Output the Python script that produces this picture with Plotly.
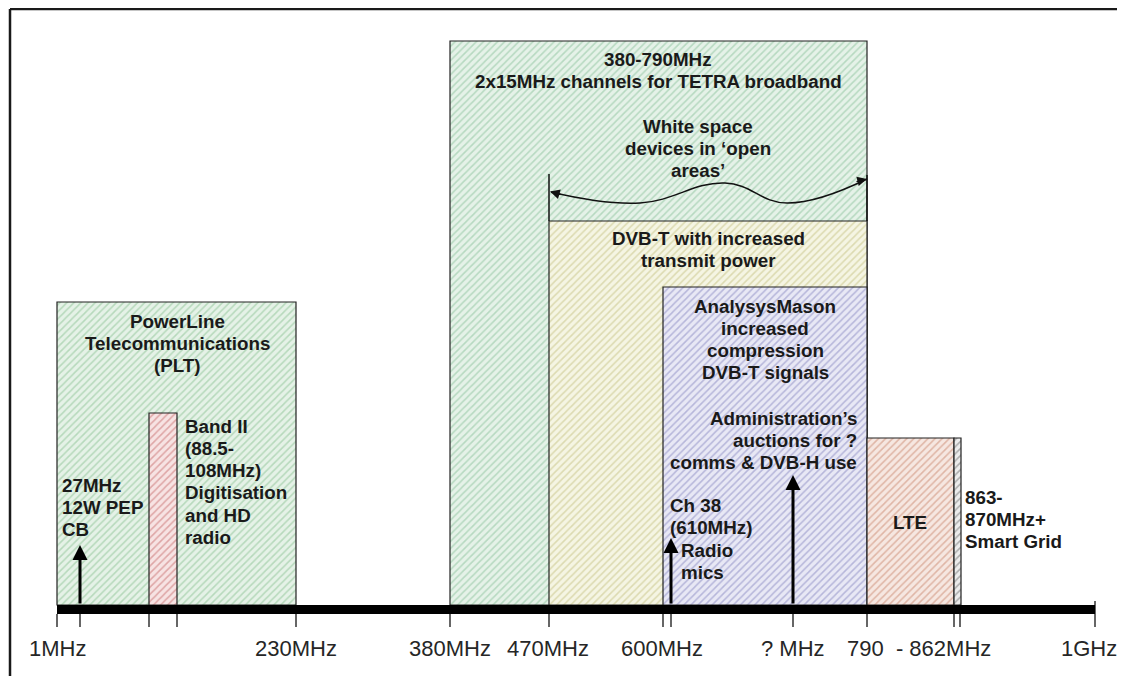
import plotly.graph_objects as go

# ---- Data (schematic spectrum positions; horizontal unit = schematic position, vertical = level above axis) ----
band_names = ["TETRA", "DVB-T", "AnalysysMason", "LTE", "Smart Grid", "PLT", "Band II"]
band_start = [450, 549, 663, 867, 954, 57, 149]
band_end = [867, 867, 867, 954, 961, 296, 177]
band_top = [564, 384, 318, 167, 167, 303, 192]
band_fg = ["#b6d9c0", "#dcdab0", "#b6b6da", "#dfb5a5", "#ababab", "#b6d9bb", "#dea5a5"]
band_bg = ["#e5f2e8", "#f5f5e3", "#e8e8f5", "#f6e7e1", "#ececec", "#e5f2e7", "#f7e3e3"]

tick_pos = [57, 80, 149, 177, 296, 450, 549, 663, 671, 793, 867, 954, 960, 1095]
tick_label_pos = [57, 296, 450, 548, 662, 793, 919, 1089]
tick_labels = ["1MHz", "230MHz", "380MHz", "470MHz", "600MHz", "? MHz", "790  - 862MHz", "1GHz"]

arrow_pos = [80, 671, 793]
arrow_top = [60, 67, 130]

wave_x = [551, 640, 725, 787, 867]
wave_y = [413, 402, 422, 402, 426]

axis_start, axis_end = 57, 1095

# label lines, x, y of first line, xanchor
labels = [
    (["PowerLine", "Telecommunications", "(PLT)"], 177, 284, "center"),
    (["27MHz", "12W PEP", "CB"], 60, 120, "left"),
    (["Band II", "(88.5-", "108MHz)", "Digitisation", "and HD", "radio"], 183, 179, "left"),
    (["380-790MHz", "2x15MHz channels for TETRA broadband"], 658, 546, "center"),
    (["White space", "devices in \u2018open", "areas\u2019"], 698, 479, "center"),
    (["DVB-T with increased", "transmit power"], 708, 367, "center"),
    (["AnalysysMason", "increased", "compression", "DVB-T signals"], 765, 299, "center"),
    (["Administration\u2019s", "auctions for ?", "comms &amp; DVB-H use"], 859, 187, "right"),
    (["Ch 38", "(610MHz)"], 668, 100, "left"),
    (["Radio", "mics"], 679, 55, "left"),
    (["LTE"], 910, 83, "center"),
    (["863-", "870MHz+", "Smart Grid"], 963, 108, "left"),
]
LINE_STEP = 22.3

FONT = "Arial, 'Liberation Sans', sans-serif"
PAGE_OFFSET = 8  # browser body margin

fig = go.Figure()

for name, s, e, top, fg, bg in zip(band_names, band_start, band_end, band_top, band_fg, band_bg):
    fig.add_trace(go.Bar(
        x=[(s + e) / 2], y=[top], base=[0], width=[e - s], name=name,
        marker=dict(
            color=bg,
            line=dict(color="#222222", width=1.2),
            pattern=dict(shape="/", fgcolor=fg, bgcolor=bg, fgopacity=1, size=5, solidity=0.3,
                         fillmode="replace"),
        ),
        hoverinfo="skip", showlegend=False,
    ))

# wavy white-space line
fig.add_trace(go.Scatter(
    x=wave_x, y=wave_y, mode="lines",
    line=dict(color="#111111", width=1.5, shape="spline", smoothing=1.2),
    hoverinfo="skip", showlegend=False,
))

FIG_W = 1125 - 2 * PAGE_OFFSET  # keep page free of scrollbars
FIG_H = 684 - 2 * PAGE_OFFSET
x_lo, x_hi = PAGE_OFFSET, PAGE_OFFSET + FIG_W
y_lo, y_hi = 605 - PAGE_OFFSET - FIG_H, 605 - PAGE_OFFSET

shapes = []
# outer frame: top and left edges (right/bottom fall outside the picture)
shapes.append(dict(type="line", xref="x", yref="y", x0=10, x1=x_hi + 5, y0=596, y1=596,
                   line=dict(color="#1a1a1a", width=2.5), layer="above"))
shapes.append(dict(type="line", xref="x", yref="y", x0=10, x1=10, y0=y_lo - 5, y1=596,
                   line=dict(color="#1a1a1a", width=2.5), layer="above"))
# white space vertical bounds
shapes.append(dict(type="line", xref="x", yref="y", x0=549, x1=549, y0=384, y1=431,
                   line=dict(color="#111111", width=1.5)))
shapes.append(dict(type="line", xref="x", yref="y", x0=867, x1=867, y0=384, y1=430,
                   line=dict(color="#111111", width=1.5)))
# ticks
for p in tick_pos:
    top = 4 if p == axis_end else -9
    shapes.append(dict(type="line", xref="x", yref="y", x0=p, x1=p, y0=-22, y1=top,
                       line=dict(color="#333333", width=1.5), layer="above"))
# thick axis bar
shapes.append(dict(type="rect", xref="x", yref="y", x0=axis_start, x1=axis_end, y0=-9, y1=0,
                   line=dict(width=0), fillcolor="#000000", layer="above"))

annotations = []
for lines, x, y0, xa in labels:
    for i, line in enumerate(lines):
        annotations.append(dict(
            x=x, y=y0 - i * LINE_STEP, xref="x", yref="y", text="<b>" + line + "</b>", showarrow=False,
            xanchor=xa, yanchor="middle", align=xa,
            font=dict(family=FONT, size=18.8, color="#1a1a1a"),
        ))
for p, t in zip(tick_label_pos, tick_labels):
    annotations.append(dict(
        x=p, y=-43, xref="x", yref="y", text=t.replace("  ", "&nbsp; "), showarrow=False,
        xanchor="center", yanchor="middle",
        font=dict(family=FONT, size=22, color="#262626"),
    ))
# vertical frequency arrows
for p, t in zip(arrow_pos, arrow_top):
    annotations.append(dict(
        x=p, y=t, ax=p, ay=0, xref="x", yref="y", axref="x", ayref="y", text="",
        showarrow=True, arrowhead=2, arrowsize=1.0, arrowwidth=3, arrowcolor="#000000", standoff=0,
    ))
# arrowheads on wave ends
annotations.append(dict(x=550, y=413.5, ax=562, ay=410, xref="x", yref="y", axref="x", ayref="y",
                        text="", showarrow=True, arrowhead=2, arrowsize=1.3, arrowwidth=1.5,
                        arrowcolor="#111111", standoff=0))
annotations.append(dict(x=867, y=426, ax=855, ay=423, xref="x", yref="y", axref="x", ayref="y",
                        text="", showarrow=True, arrowhead=2, arrowsize=1.3, arrowwidth=1.5,
                        arrowcolor="#111111", standoff=0))

fig.update_layout(
    width=FIG_W, height=FIG_H, autosize=False,
    margin=dict(l=0, r=0, t=0, b=0, pad=0),
    paper_bgcolor="white", plot_bgcolor="white",
    barmode="overlay", bargap=0,
    xaxis=dict(range=[x_lo, x_hi], visible=False, fixedrange=True),
    yaxis=dict(range=[y_lo, y_hi], visible=False, fixedrange=True),
    shapes=shapes, annotations=annotations,
    showlegend=False,
)

fig.write_html("out.html", config={"displayModeBar": False, "staticPlot": True})
